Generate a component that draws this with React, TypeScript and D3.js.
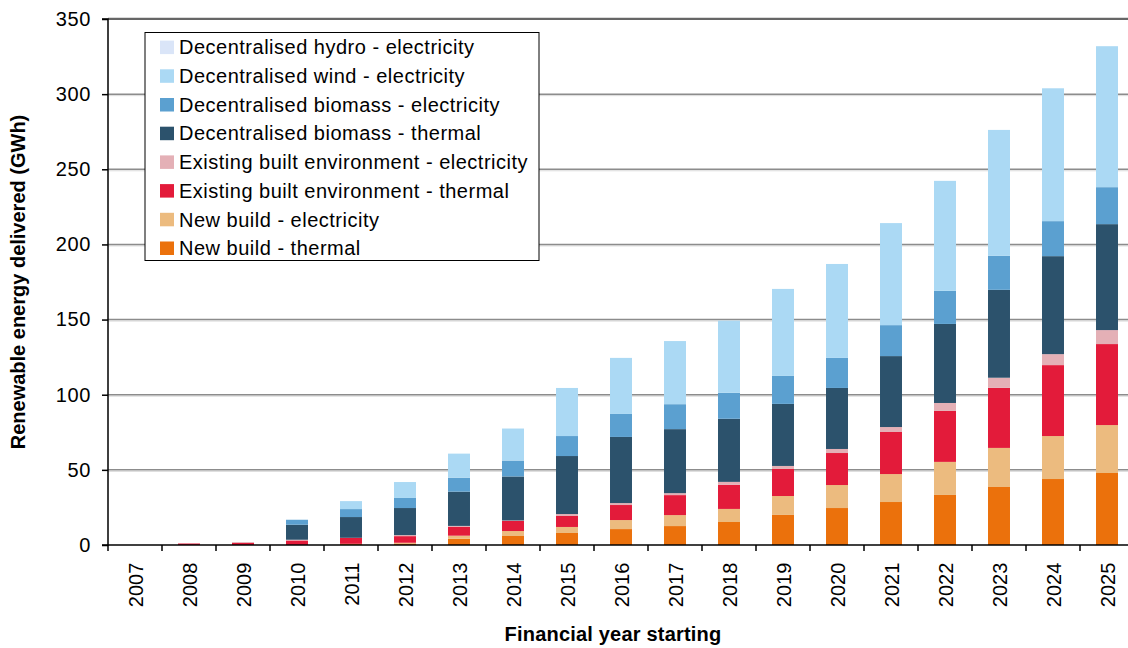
import React, { useEffect, useRef } from 'react';
import * as d3 from 'd3';

const years = ['2007', '2008', '2009', '2010', '2011', '2012', '2013', '2014', '2015', '2016', '2017', '2018', '2019', '2020', '2021', '2022', '2023', '2024', '2025'];

const newBuildThermal = [0, 0, 0, 0, 0.8, 1, 4.2, 6, 8, 10.6, 12.6, 15.3, 20, 24.6, 28.6, 33.3, 38.6, 43.9, 47.9];
const newBuildElec = [0, 0, 0, 0, 0, 0.5, 2, 3.3, 4, 6, 7.3, 8.7, 12.6, 15.3, 18.6, 22, 26, 28.6, 31.9];
const existingThermal = [0, 1, 1.5, 3, 4, 4.4, 5.8, 6.7, 7.3, 10, 13.3, 16, 18, 21.3, 28, 33.9, 40, 47.2, 53.9];
const existingElec = [0, 0, 0.5, 0.5, 0, 0.7, 0.7, 0.3, 1.3, 1.3, 1.3, 2, 2, 2.7, 3.3, 5.3, 6.7, 7.3, 9.3];
const biomassThermal = [0, 0, 0, 10, 13.8, 18, 22.8, 29.3, 38.6, 44, 42.6, 42, 41.3, 40.6, 47.2, 52.6, 58.5, 65.2, 70.5];
const biomassElec = [0, 0, 0, 3.3, 5.3, 6.7, 9.3, 10.6, 13.3, 15.3, 16.6, 17.3, 18.6, 20, 20.6, 22, 22.6, 23.3, 24.6];
const windElec = [0, 0, 0, 0, 5.3, 10.6, 16, 21.3, 32, 37.3, 42, 48, 57.9, 62.5, 67.9, 73.2, 83.8, 88.4, 93.8];
const hydroElec = [0, 0, 0, 0, 0, 0, 0, 0, 0, 0, 0, 0, 0, 0, 0, 0, 0, 0, 0];

const yTicks = [0, 50, 100, 150, 200, 250, 300, 350];

// stacking order bottom -> top
const series = [
  { name: 'New build - thermal', values: newBuildThermal, color: '#eb710c' },
  { name: 'New build - electricity', values: newBuildElec, color: '#ecbb7f' },
  { name: 'Existing built environment - thermal', values: existingThermal, color: '#e31b3a' },
  { name: 'Existing built environment - electricity', values: existingElec, color: '#e4b0b6' },
  { name: 'Decentralised biomass - thermal', values: biomassThermal, color: '#2c526c' },
  { name: 'Decentralised biomass - electricity', values: biomassElec, color: '#5ba0d0' },
  { name: 'Decentralised wind - electricity', values: windElec, color: '#abd9f4' },
  { name: 'Decentralised hydro - electricity', values: hydroElec, color: '#dae5f8' },
];

const App: React.FC = () => {
  const ref = useRef<SVGSVGElement | null>(null);

  useEffect(() => {
    if (!ref.current) return;
    const svg = d3.select(ref.current);
    svg.selectAll('*').remove();

    const width = 1128;
    const height = 648;
    const font = 'Arial, "Liberation Sans", sans-serif';
    const fs = 20;
    const margin = { left: 108, top: 19, bottom: 545 };

    const x = d3.scaleBand<string>().domain(years).range([margin.left, margin.left + 54 * years.length]).paddingInner(0.593).paddingOuter(0.2965);
    const y = d3.scaleLinear().domain([0, 350]).range([margin.bottom, margin.top]);

    svg.append('rect').attr('width', width).attr('height', height).attr('fill', '#fff');

    // gridlines
    const grid = svg.append('g');
    yTicks.filter((t) => t > 0).forEach((t) => {
      const top = t === 350;
      grid.append('line')
        .attr('x1', margin.left).attr('x2', width)
        .attr('y1', y(t) + (top ? -1.5 : 1.5)).attr('y2', y(t) + (top ? -1.5 : 1.5))
        .attr('stroke', '#dadada').attr('stroke-width', 1);
      grid.append('line')
        .attr('x1', margin.left).attr('x2', width)
        .attr('y1', y(t)).attr('y2', y(t))
        .attr('stroke', top ? '#333' : '#8c8c8c').attr('stroke-width', 1.5);
    });

    // stacked bars
    const table = years.map((yr, i) => {
      const row: Record<string, number | string> = { year: yr };
      series.forEach((s) => { row[s.name] = s.values[i]; });
      return row;
    });
    const stack = d3.stack<Record<string, number | string>>().keys(series.map((s) => s.name)).value((d, k) => d[k] as number);
    const layers = stack(table);

    svg.append('g').selectAll('g')
      .data(layers)
      .enter()
      .append('g')
      .attr('fill', (_, i) => series[i].color)
      .selectAll('rect')
      .data((d) => d)
      .enter()
      .append('rect')
      .attr('x', (d) => x(d.data.year as string)!)
      .attr('width', x.bandwidth())
      .attr('y', (d) => y(d[1]))
      .attr('height', (d) => Math.max(0, y(d[0]) - y(d[1])));

    // y axis
    const yAxis = d3.axisLeft(y).tickValues(yTicks).tickSize(6).tickPadding(11).tickFormat((d) => `${d}`);
    const yg = svg.append('g').attr('transform', `translate(${margin.left},0)`).call(yAxis);
    yg.select('.domain').attr('stroke', '#000').attr('stroke-width', 1.5).attr('d', `M-6,${margin.top}H0V${margin.bottom}H-6`);
    yg.selectAll('.tick line').attr('stroke', '#000').attr('stroke-width', 1.5);
    yg.selectAll('.tick text').attr('font-family', font).attr('font-size', fs).attr('letter-spacing', 0.6).attr('fill', '#000');

    // x axis
    const xg = svg.append('g').attr('transform', `translate(0,${margin.bottom})`);
    xg.append('line').attr('x1', margin.left).attr('x2', width).attr('y1', 0).attr('y2', 0)
      .attr('stroke', '#000').attr('stroke-width', 1.5);
    xg.selectAll('.xt')
      .data(years)
      .enter()
      .append('line')
      .attr('x1', (d) => x(d)! - x.step() * x.paddingOuter())
      .attr('x2', (d) => x(d)! - x.step() * x.paddingOuter())
      .attr('y1', 0).attr('y2', 6)
      .attr('stroke', '#000').attr('stroke-width', 1.5);
    xg.selectAll('.xl')
      .data(years)
      .enter()
      .append('text')
      .attr('transform', (d) => `translate(${x(d)! + x.bandwidth() / 2 + 7.5},17.7) rotate(-90)`)
      .attr('text-anchor', 'end')
      .attr('font-family', font).attr('font-size', fs).attr('fill', '#000')
      .text((d) => d);

    // axis titles
    svg.append('text')
      .attr('x', 613).attr('y', 641)
      .attr('text-anchor', 'middle')
      .attr('font-family', font).attr('font-size', fs).attr('font-weight', 'bold').attr('letter-spacing', 0.2)
      .text('Financial year starting');
    svg.append('text')
      .attr('transform', `translate(25,${(margin.top + margin.bottom) / 2}) rotate(-90)`)
      .attr('text-anchor', 'middle')
      .attr('font-family', font).attr('font-size', fs).attr('font-weight', 'bold')
      .text('Renewable energy delivered (GWh)');

    // legend
    const legend = svg.append('g');
    legend.append('rect')
      .attr('x', 145).attr('y', 32.5).attr('width', 394).attr('height', 228)
      .attr('fill', '#fff').attr('stroke', '#000').attr('stroke-width', 1);
    const legendItems = series.slice().reverse();
    legendItems.forEach((s, i) => {
      const cy = 47.3 + i * 28.7;
      legend.append('rect')
        .attr('x', 160).attr('y', cy - 6.7).attr('width', 14).attr('height', 13.5)
        .attr('fill', s.color);
      legend.append('text')
        .attr('x', 179).attr('y', cy + 7)
        .attr('font-family', font).attr('font-size', fs).attr('letter-spacing', 0.5).attr('fill', '#000')
        .text(s.name);
    });
  }, []);

  return (
    <svg ref={ref} width={1128} height={648} style={{ position: 'absolute', left: 0, top: 0 }} />
  );
};

export default App;
